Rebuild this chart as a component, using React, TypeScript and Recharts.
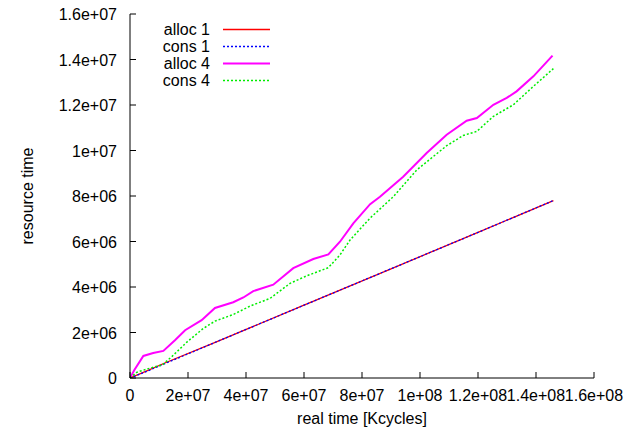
import { LineChart, Line, XAxis, YAxis, Legend } from 'recharts';

// real time [Kcycles] / resource time readings
const alloc1X = [0, 5e6, 1.2e7, 3e7, 6e7, 9e7, 1.2e8, 1.46e8];
const alloc1Y = [0, 0.27e6, 0.66e6, 1.6e6, 3.2e6, 4.8e6, 6.4e6, 7.8e6];
const cons1X = [0, 5e6, 1.2e7, 3e7, 6e7, 9e7, 1.2e8, 1.46e8];
const cons1Y = [0, 0.25e6, 0.63e6, 1.6e6, 3.2e6, 4.8e6, 6.4e6, 7.8e6];
const alloc4X = [0, 1.5e6, 4.6e6, 8e6, 1.15e7, 1.55e7, 1.9e7, 2.47e7, 2.93e7, 3.56e7, 3.91e7, 4.25e7, 4.94e7, 5.63e7, 6.32e7, 6.84e7, 7.24e7, 7.7e7, 8.28e7, 8.62e7, 9.42e7, 1.023e8, 1.092e8, 1.161e8, 1.196e8, 1.253e8, 1.299e8, 1.333e8, 1.391e8, 1.457e8];
const alloc4Y = [0, 0.35e6, 0.97e6, 1.1e6, 1.19e6, 1.66e6, 2.1e6, 2.54e6, 3.08e6, 3.33e6, 3.54e6, 3.82e6, 4.1e6, 4.83e6, 5.23e6, 5.43e6, 5.99e6, 6.8e6, 7.64e6, 7.97e6, 8.85e6, 9.89e6, 1.069e7, 1.131e7, 1.143e7, 1.201e7, 1.231e7, 1.26e7, 1.326e7, 1.417e7];
const cons4X = [0, 2.3e6, 6e6, 1.12e7, 1.45e7, 1.98e7, 2.53e7, 2.93e7, 3.56e7, 4.14e7, 4.83e7, 5.52e7, 6.09e7, 6.84e7, 7.24e7, 7.59e7, 8.28e7, 9.08e7, 9.89e7, 1.092e8, 1.149e8, 1.196e8, 1.253e8, 1.322e8, 1.391e8, 1.46e8];
const cons4Y = [0, 0.25e6, 0.4e6, 0.58e6, 0.95e6, 1.6e6, 2.18e6, 2.5e6, 2.79e6, 3.16e6, 3.5e6, 4.16e6, 4.49e6, 4.85e6, 5.41e6, 6.07e6, 7.03e6, 7.97e6, 9.15e6, 1.021e7, 1.066e7, 1.084e7, 1.15e7, 1.201e7, 1.282e7, 1.36e7];

const xTicks = [0, 2e7, 4e7, 6e7, 8e7, 1e8, 1.2e8, 1.4e8, 1.6e8];
const xTickLabels = ['0', '2e+07', '4e+07', '6e+07', '8e+07', '1e+08', '1.2e+08', '1.4e+08', '1.6e+08'];
const yTicks = [0, 2e6, 4e6, 6e6, 8e6, 1e7, 1.2e7, 1.4e7, 1.6e7];
const yTickLabels = ['0', '2e+06', '4e+06', '6e+06', '8e+06', '1e+07', '1.2e+07', '1.4e+07', '1.6e+07'];

const series = [
  { name: 'alloc 1', xs: alloc1X, ys: alloc1Y, color: '#ff0000', width: 1.3, dash: undefined },
  { name: 'cons 1', xs: cons1X, ys: cons1Y, color: '#0000ff', width: 1.3, dash: '2 2' },
  { name: 'alloc 4', xs: alloc4X, ys: alloc4Y, color: '#ff00ff', width: 2, dash: undefined },
  { name: 'cons 4', xs: cons4X, ys: cons4Y, color: '#00ee00', width: 1.5, dash: '2 2' },
];

const FONT = '"Liberation Sans", Arial, sans-serif';
const FS = 16;

const toPoints = (xs: number[], ys: number[]) => xs.map((x, i) => ({ x, y: ys[i] }));

function KeyBox() {
  return (
    <div style={{ fontFamily: FONT, fontSize: FS, color: '#000' }}>
      {series.map((s) => (
        <div key={s.name} style={{ display: 'flex', alignItems: 'center', height: 17 }}>
          <span style={{ width: 210, textAlign: 'right', lineHeight: '17px' }}>{s.name}</span>
          <svg width={60} height={17} style={{ display: 'block' }}>
            <line x1={13} x2={60} y1={8.5} y2={8.5} stroke={s.color} strokeWidth={s.width} strokeDasharray={s.dash} />
          </svg>
        </div>
      ))}
    </div>
  );
}

export default function App() {
  return (
    <div style={{ position: 'absolute', left: 0, top: 0, background: '#fff' }}>
      <LineChart width={629} height={430} margin={{ top: 14, right: 35, left: 0, bottom: 0 }} style={{ fontFamily: FONT }}>
        <XAxis
          dataKey="x"
          type="number"
          domain={[0, 1.6e8]}
          ticks={xTicks}
          interval={0}
          height={52}
          tickSize={0}
          tickMargin={0}
          tickLine={false}
          axisLine={{ stroke: '#000' }}
          allowDataOverflow
          tick={(p: any) => (
            <g>
              <line x1={p.x} x2={p.x} y1={p.y} y2={p.y - 6} stroke="#000" />
              <text x={p.x} y={p.y + 23} textAnchor="middle" fontSize={FS} fill="#000" fontFamily={FONT}>
                {xTickLabels[xTicks.indexOf(p.payload.value)]}
              </text>
            </g>
          )}
          label={{
            content: () => (
              <text x={362} y={424} textAnchor="middle" fontSize={FS} fill="#000" fontFamily={FONT}>real time [Kcycles]</text>
            ),
          }}
        />
        <XAxis
          xAxisId="top"
          orientation="top"
          type="number"
          domain={[0, 1.6e8]}
          ticks={xTicks}
          interval={0}
          height={0}
          tickSize={0}
          tickMargin={0}
          tickLine={false}
          axisLine={{ stroke: '#000' }}
          tick={(p: any) => <line x1={p.x} x2={p.x} y1={p.y} y2={p.y + 6} stroke="#000" />}
        />
        <YAxis
          type="number"
          domain={[0, 1.6e7]}
          ticks={yTicks}
          interval={0}
          width={130}
          tickSize={0}
          tickMargin={0}
          tickLine={false}
          axisLine={{ stroke: '#000' }}
          allowDataOverflow
          tick={(p: any) => (
            <g>
              <line x1={p.x} x2={p.x + 6} y1={p.y} y2={p.y} stroke="#000" />
              <text x={p.x - 13} y={p.y + 6} textAnchor="end" fontSize={FS} fill="#000" fontFamily={FONT}>
                {yTickLabels[yTicks.indexOf(p.payload.value)]}
              </text>
            </g>
          )}
          label={{
            content: () => (
              <text x={33} y={196} transform="rotate(-90 33 196)" textAnchor="middle" fontSize={FS} fill="#000" fontFamily={FONT}>resource time</text>
            ),
          }}
        />
        <YAxis
          yAxisId="right"
          orientation="right"
          type="number"
          domain={[0, 1.6e7]}
          ticks={yTicks}
          interval={0}
          width={0}
          tickSize={0}
          tickMargin={0}
          tickLine={false}
          axisLine={{ stroke: '#000' }}
          tick={(p: any) => <line x1={p.x} x2={p.x - 6} y1={p.y} y2={p.y} stroke="#000" />}
        />
        <Legend
          layout="horizontal"
          verticalAlign="middle"
          align="center"
          wrapperStyle={{ position: 'absolute', left: 0, top: 21, width: 300 }}
          content={() => <KeyBox />}
        />
        {series.map((s) => (
          <Line
            key={s.name}
            data={toPoints(s.xs, s.ys)}
            dataKey="y"
            name={s.name}
            type="linear"
            stroke={s.color}
            strokeWidth={s.width}
            strokeDasharray={s.dash}
            dot={false}
            activeDot={false}
            isAnimationActive={false}
          />
        ))}
      </LineChart>
    </div>
  );
}
